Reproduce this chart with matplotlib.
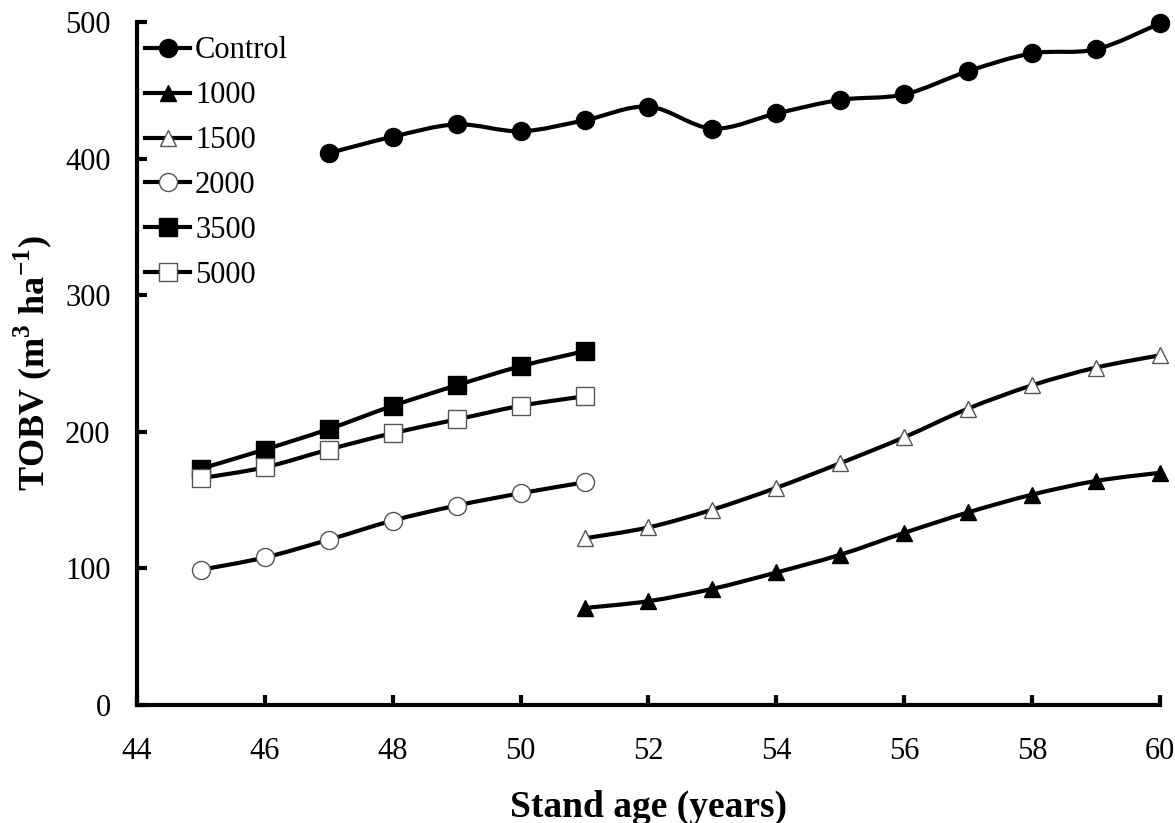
import numpy as np
import matplotlib.pyplot as plt
from matplotlib.path import Path
from matplotlib.patches import PathPatch
from matplotlib.lines import Line2D

plt.rcParams['font.family'] = 'Liberation Serif'
plt.rcParams['mathtext.fontset'] = 'custom'
plt.rcParams['mathtext.rm'] = 'Liberation Serif'
plt.rcParams['mathtext.bf'] = 'Liberation Serif:bold'

# stand age (years)
age_early = [45, 46, 47, 48, 49, 50, 51]
age_late = [51, 52, 53, 54, 55, 56, 57, 58, 59, 60]
age_control = [47, 48, 49, 50, 51, 52, 53, 54, 55, 56, 57, 58, 59, 60]

# TOBV (m3 ha-1)
control = [404, 416, 425, 420, 428, 438, 422, 433, 443, 447, 464, 477, 480, 499]
d1000 = [71, 76, 85, 97, 110, 126, 141, 154, 164, 170]
d1500 = [122, 130, 143, 159, 177, 196, 217, 234, 247, 256]
d2000 = [99, 108, 121, 135, 146, 155, 163]
d3500 = [173, 187, 202, 219, 234, 248, 259]
d5000 = [166, 174, 187, 199, 209, 219, 226]

series = [
    ('Control', age_control, control, 'o', 'black', 13),
    ('1000', age_late, d1000, '^', 'black', 12),
    ('1500', age_late, d1500, '^', 'white', 12),
    ('2000', age_early, d2000, 'o', 'white', 13),
    ('3500', age_early, d3500, 's', 'black', 12.5),
    ('5000', age_early, d5000, 's', 'white', 12.5),
]


def smooth_path(x, y):
    # Catmull-Rom style smoothed line (like a spreadsheet "smoothed line")
    p = np.column_stack([x, y]).astype(float)
    n = len(p)
    verts = [p[0]]
    codes = [Path.MOVETO]
    for i in range(n - 1):
        p0 = p[i - 1] if i > 0 else p[i]
        p3 = p[i + 2] if i + 2 < n else p[i + 1]
        c1 = p[i] + (p[i + 1] - p0) / 6
        c2 = p[i + 1] - (p3 - p[i]) / 6
        verts += [c1, c2, p[i + 1]]
        codes += [Path.CURVE4] * 3
    return Path(verts, codes)


fig = plt.figure(figsize=(11.75, 8.23), dpi=100)
ax = fig.add_axes([0.1166, 0.1434, 0.8706, 0.8299])

handles = []
for k, (name, x, y, m, fc, ms) in enumerate(series):
    ec = 'black' if fc == 'black' else '#555555'
    patch = PathPatch(smooth_path(x, y), facecolor='none', edgecolor='black',
                      lw=3, zorder=2 + 2 * k, capstyle='round')
    patch.set_clip_on(False)
    ax.add_patch(patch)
    ax.plot(x, y, linestyle='none', marker=m, ms=ms, mfc=fc, mec=ec,
            mew=1, zorder=3 + 2 * k, clip_on=False)
    handles.append(Line2D([], [], color='black', lw=3, marker=m, ms=ms,
                          mfc=fc, mec=ec, mew=1, label=name))

ax.set_xlim(44, 60)
ax.set_ylim(0, 500)
ax.set_xticks(np.arange(44, 61, 2))
ax.set_yticks(np.arange(0, 501, 100))

for s in ['top', 'right']:
    ax.spines[s].set_visible(False)
for s in ['left', 'bottom']:
    ax.spines[s].set_linewidth(3)

ax.tick_params(direction='in', length=7, width=3, labelsize=22)
ax.tick_params(axis='y', pad=19)
ax.tick_params(axis='x', pad=23)

ax.set_xlabel('Stand age (years)', fontsize=27, fontweight='bold', labelpad=17)
ax.set_ylabel(r'TOBV (m$^{\mathbf{3}}$ ha$^{\mathbf{-1}}$)', fontsize=26,
              fontweight='bold', labelpad=8)

ax.legend(handles=handles, loc='upper left', frameon=False, fontsize=22,
          handlelength=1.5, handletextpad=0.15, labelspacing=0.52,
          borderpad=0.25, borderaxespad=0, bbox_to_anchor=(0.0, 0.99))

fig.savefig('out.png', dpi=100)
